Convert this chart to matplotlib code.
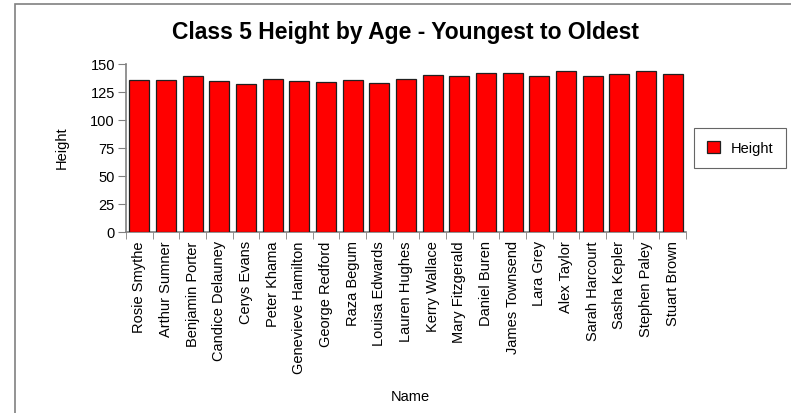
import matplotlib
matplotlib.use("Agg")
import matplotlib.pyplot as plt
from matplotlib.patches import Rectangle
import numpy as np

names = ["Rosie Smythe", "Arthur Sumner", "Benjamin Porter", "Candice Delauney",
         "Cerys Evans", "Peter Khama", "Genevieve Hamilton", "George Redford",
         "Raza Begum", "Louisa Edwards", "Lauren Hughes", "Kerry Wallace",
         "Mary Fitzgerald", "Daniel Buren", "James Townsend", "Lara Grey",
         "Alex Taylor", "Sarah Harcourt", "Sasha Kepler", "Stephen Paley",
         "Stuart Brown"]
heights = [136, 136, 139, 135, 132, 137, 135, 134, 136, 133, 137, 140,
           139, 142, 142, 139, 144, 139, 141, 144, 141]
y_ticks = [0, 25, 50, 75, 100, 125, 150]

plt.rcParams['font.family'] = ['Liberation Sans', 'DejaVu Sans']

W, H = 791, 414
fig = plt.figure(figsize=(W / 100, H / 100), dpi=100)
fig.patch.set_facecolor('white')

# outer frame
fig.patches.append(Rectangle((15 / W, -0.1), 1.2, (H - 5) / H + 0.1,
                             transform=fig.transFigure, fill=False,
                             edgecolor='#808080', linewidth=1.2))

ax = fig.add_axes([126 / W, (H - 233) / H, 560 / W, 168 / H])
x = np.arange(len(names))
ax.bar(x, heights, width=0.76, color='#ff0000', edgecolor='#202020',
       linewidth=0.9, label='Height', zorder=3)

ax.set_xlim(-0.5, len(names) - 0.5)
ax.set_ylim(0, 150)
ax.set_yticks(y_ticks)
ax.set_yticklabels([str(v) for v in y_ticks], fontsize=10.5)
ax.set_xticks(x)
ax.set_xticklabels(names, rotation=90, fontsize=10.5)
ax.tick_params(axis='x', length=0, pad=6)
ax.set_xticks(np.arange(-0.5, len(names)), minor=True)
ax.tick_params(axis='x', which='minor', length=5, color='#808080', direction='out')
ax.tick_params(axis='y', length=6, color='#808080', direction='out', pad=2)

for s in ['top', 'right']:
    ax.spines[s].set_visible(False)
for s in ['left', 'bottom']:
    ax.spines[s].set_color('#808080')
    ax.spines[s].set_linewidth(1.2)

fig.text(405 / W, 1 - 33 / H, "Class 5 Height by Age - Youngest to Oldest",
         ha='center', va='center', fontsize=16.5, fontweight='bold')
fig.text(62 / W, 1 - 148 / H, "Height", rotation=90, ha='center', va='center', fontsize=10.5)
fig.text(410 / W, 1 - 397 / H, "Name", ha='center', va='center', fontsize=10.5)

leg = fig.legend(loc='center', bbox_to_anchor=(740 / W, 1 - 149 / H),
                 fontsize=10.5, frameon=True, fancybox=False, handlelength=0.9,
                 handleheight=0.9, borderpad=0.9, handletextpad=0.7)
leg.get_frame().set_edgecolor('#404040')
leg.get_frame().set_linewidth(0.8)

fig.savefig("out.png", dpi=100)
